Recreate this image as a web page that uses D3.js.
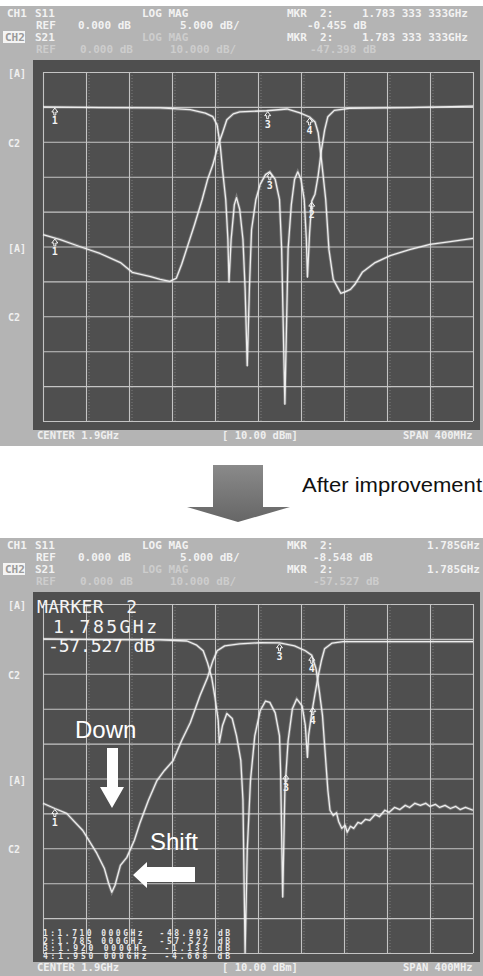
<!DOCTYPE html>
<html>
<head>
<meta charset="utf-8">
<script src="https://cdn.jsdelivr.net/npm/d3@7"></script>
<style>
	body { margin: 0; background: #fff; }
	svg { display: block; }
	text { white-space: pre; }
</style>
</head>
<body>
<svg id="chart" width="483" height="976"></svg>
<script>
// frequency axis: CENTER 1.9GHz, SPAN 400MHz
var freqTicks = [1.70, 1.74, 1.78, 1.82, 1.86, 1.90, 1.94, 1.98, 2.02, 2.06, 2.10];
// dB levels of horizontal divisions (S21 at 10 dB/div, ref 0 dB on 2nd line)
var levelTicks = [10, 0, -10, -20, -30, -40, -50, -60, -70, -80, -90];
var sideLabels = [["[A]", 0], ["C2", 2], ["[A]", 5], ["C2", 7]];

// before improvement  [GHz, dB]
var s11Before = [[1.700,0],[1.753,-0.1],[1.809,-0.15],[1.837,-0.4],[1.851,-0.9],[1.858,-1.4],[1.862,-2.6],
	[1.865,-5.7],[1.867,-9],[1.870,-13.3],[1.872,-19],[1.873,-25.1],[1.875,-19],[1.878,-14],[1.880,-13],
	[1.883,-14.7],[1.886,-19],[1.888,-26],[1.890,-37.1],[1.892,-26],[1.894,-17.6],[1.898,-13.3],[1.902,-11.1],
	[1.907,-9.7],[1.911,-9.3],[1.916,-10.4],[1.920,-13.3],[1.922,-20.4],[1.925,-42.6],[1.928,-20.4],[1.931,-14],
	[1.934,-10.4],[1.937,-9.3],[1.940,-10.4],[1.943,-13.3],[1.945,-19],[1.946,-24.4],[1.948,-18],[1.950,-13.5],
	[1.953,-12.5],[1.956,-9.8],[1.959,-6.2],[1.962,-3.3],[1.965,-1.4],[1.971,-0.5],[1.985,-0.2],[2.040,-0.1],[2.100,0.1]];
var s21Before = [[1.700,-36.6],[1.716,-38],[1.734,-40],[1.753,-42],[1.772,-44.6],[1.783,-47.4],[1.800,-48.6],
	[1.809,-49.4],[1.818,-50],[1.824,-49.1],[1.829,-45.1],[1.835,-39.4],[1.841,-33.7],[1.848,-26.6],[1.853,-20.9],
	[1.858,-16.6],[1.863,-10.9],[1.867,-7.4],[1.871,-3.7],[1.877,-2],[1.883,-1.4],[1.908,-1.1],[1.927,-0.6],
	[1.939,-1.7],[1.948,-2.9],[1.953,-4.3],[1.956,-7.4],[1.959,-15.1],[1.963,-26.6],[1.966,-40.9],[1.970,-49.4],
	[1.974,-51.7],[1.977,-53.4],[1.981,-53],[1.986,-52.3],[1.990,-50.9],[1.997,-47.4],[2.009,-44.6],[2.023,-42.6],
	[2.041,-40.9],[2.060,-39.4],[2.079,-38.6],[2.100,-37.7]];

// after improvement  [GHz, dB]
var s11After = [[1.700,0],[1.753,-0.1],[1.809,-0.15],[1.834,-0.3],[1.843,-0.9],[1.849,-1.7],[1.853,-3.4],
	[1.857,-5.6],[1.860,-8.4],[1.863,-11.7],[1.864,-14.9],[1.867,-12.4],[1.871,-10.7],[1.876,-11.4],[1.880,-13.9],
	[1.884,-17.4],[1.886,-23.1],[1.888,-45],[1.890,-30.3],[1.893,-20.3],[1.897,-13.9],[1.902,-10.3],[1.907,-8.9],
	[1.911,-9.1],[1.916,-10.6],[1.920,-13.9],[1.921,-18.9],[1.923,-37],[1.925,-21.7],[1.928,-14.6],[1.932,-10],
	[1.936,-8.6],[1.941,-9.6],[1.944,-12.4],[1.946,-17],[1.947,-13.9],[1.950,-10.6],[1.953,-7.9],[1.956,-5.3],
	[1.959,-3.1],[1.962,-1.4],[1.969,-0.6],[1.979,-0.4],[2.100,-0.4]];
var s21After = [[1.700,-47.1],[1.711,-48.6],[1.722,-50],[1.737,-54.9],[1.750,-61.4],[1.757,-65.7],[1.761,-70],
	[1.764,-72.6],[1.767,-70.6],[1.772,-64.9],[1.778,-62.6],[1.785,-57.7],[1.790,-52.9],[1.798,-46.3],[1.806,-40.6],
	[1.813,-37.7],[1.821,-34.9],[1.829,-29.1],[1.837,-24],[1.846,-16.3],[1.853,-11.1],[1.858,-6.3],[1.862,-3.4],
	[1.869,-2],[1.883,-1.4],[1.902,-1.1],[1.920,-1.13],[1.934,-2],[1.944,-3.4],[1.950,-4.7],[1.954,-8.6],
	[1.957,-14.9],[1.960,-22],[1.962,-30.6],[1.965,-43.4],[1.967,-49.1],[1.970,-50.6],[1.973,-49.8],[1.975,-52.3],
	[1.978,-54.3],[1.981,-53.4],[1.983,-55.4],[1.986,-53.7],[1.989,-54.3],[1.993,-52.6],[1.996,-52.9],[2.000,-51.7],
	[2.004,-52],[2.009,-50.3],[2.013,-50.9],[2.018,-49.1],[2.022,-49.7],[2.027,-48.3],[2.032,-48.9],[2.037,-47.7],
	[2.041,-48.3],[2.046,-47.1],[2.051,-47.7],[2.056,-47.1],[2.060,-48],[2.065,-47.4],[2.069,-48.3],[2.074,-47.7],
	[2.079,-48.6],[2.084,-48],[2.088,-48.9],[2.093,-48.3],[2.100,-49.1]];

// markers [number, GHz, trace]
var markersBefore = [[1, 1.711, "s11"], [1, 1.711, "s21"], [3, 1.909, "s21"], [3, 1.911, "s11"], [4, 1.948, "s21"], [2, 1.950, "s11"]];
var markersAfter = [[1, 1.711, "s21"], [3, 1.920, "s21"], [3, 1.926, "s11"], [4, 1.950, "s21"], [4, 1.951, "s11"]];
var markerTable = ["1:1.710 000GHz  -48.902 dB", "2:1.785 000GHz  -57.527 dB", "3:1.920 000GHz  -1.132 dB", "4:1.950 000GHz  -4.668 dB"];

var headerBefore = [
	[["CH1", 7], ["S11", 35], ["LOG MAG", 142], ["MKR  2:", 287], ["1.783 333 333GHz", 362]],
	[["REF", 36], ["0.000 dB", 78], ["5.000 dB/", 180], ["-0.455 dB", 307]],
	[["S21", 35], ["MKR  2:", 287], ["1.783 333 333GHz", 362]],
	[["REF", 36], ["0.000 dB", 80], ["10.000 dB/", 170], ["-47.398 dB", 310]]
];
var headerAfter = [
	[["CH1", 7], ["S11", 35], ["LOG MAG", 142], ["MKR  2:", 287], ["1.785GHz", 427]],
	[["REF", 36], ["0.000 dB", 78], ["5.000 dB/", 180], ["-8.548 dB", 313]],
	[["S21", 35], ["MKR  2:", 287], ["1.785GHz", 427]],
	[["REF", 36], ["0.000 dB", 80], ["10.000 dB/", 170], ["-57.527 dB", 313]]
];
var footer = [["CENTER 1.9GHz", 37], ["[ 10.00 dBm]", 222], ["SPAN 400MHz", 403]];

var svg = d3.select("#chart");
var mono = "'DejaVu Sans Mono', monospace";
var sans = "'Liberation Sans', Arial, sans-serif";

var x = d3.scaleLinear().domain([1.7, 2.1]).range([43, 473]);

function drawPanel(top, bottom, header, s11, s21, markers) {
	var g = svg.append("g").attr("transform", "translate(0," + top + ")");
	var gridTop = 66, gridBot = gridTop + 349;
	var y21 = d3.scaleLinear().domain([10, -90]).range([gridTop, gridBot]);
	var y11 = d3.scaleLinear().domain([5, -45]).range([gridTop, gridBot]);

	g.append("rect").attr("x", 0).attr("y", 0).attr("width", 483).attr("height", bottom - top)
		.attr("fill", "#b4b4b4");
	g.append("rect").attr("x", 33).attr("y", 54).attr("width", 447).attr("height", 370)
		.attr("fill", "#4f4f4f");

	// header rows
	var rowsY = [11, 23, 35, 47];
	header.forEach(function(row, i) {
		var faint = (i == 3);
		row.forEach(function(t) {
			g.append("text").attr("x", t[1]).attr("y", rowsY[i])
				.attr("font-family", mono).attr("font-size", 11).attr("font-weight", "bold")
				.attr("fill", faint ? "#cdcdcd" : "#f2f2f2").text(t[0]);
		});
	});
	g.append("text").attr("x", 142).attr("y", rowsY[2]).attr("font-family", mono).attr("font-size", 11)
		.attr("font-weight", "bold").attr("fill", "#cdcdcd").text("LOG MAG");
	g.append("rect").attr("x", 3).attr("y", rowsY[2] - 10).attr("width", 22).attr("height", 12).attr("fill", "#f4f4f4");
	g.append("text").attr("x", 5).attr("y", rowsY[2]).attr("font-family", mono).attr("font-size", 11)
		.attr("font-weight", "bold").attr("fill", "#9a9a9a").text("CH2");

	// grid
	g.append("g").attr("class", "grid")
		.attr("transform", "translate(0," + gridBot + ")")
		.call(d3.axisBottom(x).tickValues(freqTicks).tickSize(-(gridBot - gridTop)).tickFormat(""))
		.call(function(a) {
			a.select(".domain").remove();
			a.selectAll("line").attr("stroke", "#c4c4c4").attr("stroke-width", 1.1);
		});
	g.append("g").attr("class", "grid")
		.attr("transform", "translate(43,0)")
		.call(d3.axisLeft(y21).tickValues(levelTicks).tickSize(-430).tickFormat(""))
		.call(function(a) {
			a.select(".domain").remove();
			a.selectAll("line").attr("stroke", "#c4c4c4").attr("stroke-width", 1.1);
		});
	// dotted screen columns next to grid lines
	freqTicks.slice(1, 10).forEach(function(f) {
		g.append("line").attr("x1", x(f) + 3).attr("x2", x(f) + 3)
			.attr("y1", gridTop).attr("y2", gridBot)
			.attr("stroke", "#9a9a9a").attr("stroke-dasharray", "1,2").attr("opacity", 0.6);
	});

	// side labels
	sideLabels.forEach(function(l) {
		g.append("text").attr("x", 8).attr("y", y21(levelTicks[l[1]]) + 5)
			.attr("font-family", mono).attr("font-size", 10).attr("font-weight", "bold")
			.attr("fill", "#f0f0f0").text(l[0]);
	});

	// traces
	var line11 = d3.line().x(function(d) { return x(d[0]); }).y(function(d) { return y11(d[1]); });
	var line21 = d3.line().x(function(d) { return x(d[0]); }).y(function(d) { return y21(d[1]); });
	[[s11, line11], [s21, line21]].forEach(function(t) {
		g.append("path").datum(t[0]).attr("d", t[1]).attr("fill", "none")
			.attr("stroke", "#ffffff").attr("stroke-opacity", 0.25).attr("stroke-width", 3);
		g.append("path").datum(t[0]).attr("d", t[1]).attr("fill", "none")
			.attr("stroke", "#eeeeee").attr("stroke-width", 1.3).attr("stroke-linejoin", "round");
	});

	// marker glyphs
	function valueAt(data, f) {
		var i = d3.bisector(function(d) { return d[0]; }).left(data, f);
		i = Math.max(1, Math.min(data.length - 1, i));
		var a = data[i - 1], b = data[i];
		return a[1] + (b[1] - a[1]) * (f - a[0]) / (b[0] - a[0]);
	}
	markers.forEach(function(m) {
		var mx = x(m[1]);
		var my = m[2] == "s11" ? y11(valueAt(s11, m[1])) : y21(valueAt(s21, m[1]));
		g.append("path")
			.attr("d", "M" + mx + "," + (my + 1) + "l-3,4h2v3h2v-3h2z")
			.attr("fill", "none").attr("stroke", "#f4f4f4").attr("stroke-width", 1);
		g.append("text").attr("x", mx).attr("y", my + 17).attr("text-anchor", "middle")
			.attr("font-family", mono).attr("font-size", 10).attr("font-weight", "bold")
			.attr("fill", "#f4f4f4").text(m[0]);
	});

	// footer
	footer.forEach(function(t) {
		g.append("text").attr("x", t[1]).attr("y", 433)
			.attr("font-family", mono).attr("font-size", 10.5).attr("font-weight", "bold")
			.attr("fill", "#efefef").text(t[0]);
	});
	return g;
}

drawPanel(6, 446, headerBefore, s11Before, s21Before, markersBefore);
var after = drawPanel(538, 976, headerAfter, s11After, s21After, markersAfter);

// arrow between the panels
var grad = svg.append("defs").append("linearGradient").attr("id", "arrowFill")
	.attr("x1", 0).attr("y1", 0).attr("x2", 0).attr("y2", 1);
grad.append("stop").attr("offset", "0%").attr("stop-color", "#8a8a8a");
grad.append("stop").attr("offset", "100%").attr("stop-color", "#666666");
svg.append("path")
	.attr("d", "M213,465H263V507H290L238,522L187,507H213Z")
	.attr("fill", "url(#arrowFill)");
svg.append("text").attr("x", 302).attr("y", 492)
	.attr("font-family", sans).attr("font-size", 20).attr("fill", "#111")
	.attr("textLength", 180).attr("lengthAdjust", "spacingAndGlyphs").text("After improvement");

// annotations in the improved panel (panel offset 538)
after.append("text").attr("x", 37).attr("y", 75).attr("font-family", mono).attr("font-size", 18)
	.attr("fill", "#f4f4f4").attr("textLength", 100).text("MARKER  2");
after.append("text").attr("x", 53).attr("y", 95).attr("font-family", mono).attr("font-size", 18)
	.attr("fill", "#f4f4f4").attr("textLength", 104).text("1.785GHz");
after.append("text").attr("x", 48).attr("y", 114).attr("font-family", mono).attr("font-size", 18)
	.attr("fill", "#f4f4f4").attr("textLength", 107).text("-57.527 dB");

after.append("text").attr("x", 75).attr("y", 200).attr("font-family", sans).attr("font-size", 24)
	.attr("fill", "#ffffff").text("Down");
after.append("path").attr("d", "M107,210H118V249H124L112,270L100,249H107Z").attr("fill", "#ffffff");
after.append("text").attr("x", 150).attr("y", 312).attr("font-family", sans).attr("font-size", 24)
	.attr("fill", "#ffffff").text("Shift");
after.append("path").attr("d", "M133,337L147,324V329H195V344H147V350Z").attr("fill", "#ffffff");

markerTable.forEach(function(t, i) {
	after.append("text").attr("x", 43).attr("y", 398 + i * 7.5)
		.attr("font-family", mono).attr("font-size", 8).attr("font-weight", "bold")
		.attr("fill", "#e6e6e6").attr("textLength", 187).text(t);
});
</script>
</body>
</html>
